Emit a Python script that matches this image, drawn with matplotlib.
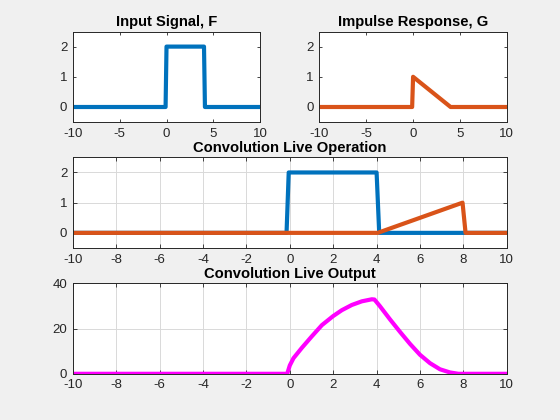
import numpy as np
import matplotlib
matplotlib.use('Agg')
import matplotlib.pyplot as plt

# input signal F (rectangular pulse)
f_x = [-10, -0.1, 0, 4, 4.1, 10]
f_y = [0, 0, 2, 2, 0, 0]

# impulse response G (decaying ramp)
g_x = [-10, -0.1, 0, 4, 10]
g_y = [0, 0, 1, 0, 0]

# live operation snapshot: F and flipped/shifted G
op_f_x = [-10, -0.15, -0.05, 4.0, 4.12, 10]
op_f_y = [0, 0, 2, 2, 0, 0]
op_g_x = [-10, 4.05, 7.96, 8.1, 10]
op_g_y = [0, 0, 1, 0, 0]

# live output of the convolution
out_x = [-10, -0.12, 0.0, 0.17, 0.55, 1.02, 1.48, 2.0, 2.4, 2.86, 3.32,
         3.78, 3.9, 4.15, 4.62, 5.08, 5.54, 6.0, 6.46, 6.92, 7.38, 7.77, 10]
out_y = [0, 0, 3.7, 6.9, 11.4, 16.6, 21.5, 25.5, 28.1, 30.4, 32.0,
         32.9, 32.8, 29.9, 24.0, 18.5, 13.2, 8.4, 4.7, 2.0, 0.6, 0.0, 0]

blue = '#0072BD'
orange = '#D95319'
magenta = '#FF00FF'
dark = '#262626'

plt.rcParams['font.family'] = ['Liberation Sans', 'DejaVu Sans']
plt.rcParams['axes.unicode_minus'] = False

fig = plt.figure(figsize=(5.6, 4.2), dpi=100)
fig.patch.set_facecolor('#f0f0f0')


def style(ax, xticks, yticks, ylim, ticklen, grid):
    ax.set_xlim(-10, 10)
    ax.set_ylim(*ylim)
    ax.set_xticks(xticks)
    ax.set_yticks(yticks)
    ax.tick_params(direction='in', length=ticklen, width=0.6, colors=dark,
                   labelsize=9.5, top=True, right=True, pad=4)
    for s in ax.spines.values():
        s.set_color(dark)
        s.set_linewidth(0.7)
    if grid:
        ax.grid(True, color='#d9d9d9', linewidth=0.7)
        ax.set_axisbelow(True)


# top left
ax1 = fig.add_axes([0.13, 0.7093, 0.3347, 0.2157])
ax1.plot(f_x, f_y, color=blue, lw=3)
style(ax1, [-10, -5, 0, 5, 10], [0, 1, 2], (-0.5, 2.5), 2, False)
ax1.set_title('Input Signal, F', fontsize=10.6, fontweight='bold', pad=4)

# top right
ax2 = fig.add_axes([0.5703, 0.7093, 0.3347, 0.2157])
ax2.plot(g_x, g_y, color=orange, lw=3)
style(ax2, [-10, -5, 0, 5, 10], [0, 1, 2], (-0.5, 2.5), 2, False)
ax2.set_title('Impulse Response, G', fontsize=10.6, fontweight='bold', pad=4)

# middle
ax3 = fig.add_axes([0.13, 0.4096, 0.775, 0.2157])
ax3.plot(op_f_x, op_f_y, color=blue, lw=3)
ax3.plot(op_g_x, op_g_y, color=orange, lw=3)
style(ax3, np.arange(-10, 11, 2), [0, 1, 2], (-0.5, 2.5), 3, True)
ax3.set_title('Convolution Live Operation', fontsize=10.6, fontweight='bold', pad=4)

# bottom
ax4 = fig.add_axes([0.13, 0.11, 0.775, 0.2157])
ax4.plot(out_x, out_y, color=magenta, lw=3, solid_joinstyle='round')
style(ax4, np.arange(-10, 11, 2), [0, 20, 40], (0, 40), 3, True)
ax4.set_title('Convolution Live Output', fontsize=10.6, fontweight='bold', pad=4)

fig.savefig('out.png', dpi=100, facecolor=fig.get_facecolor())
